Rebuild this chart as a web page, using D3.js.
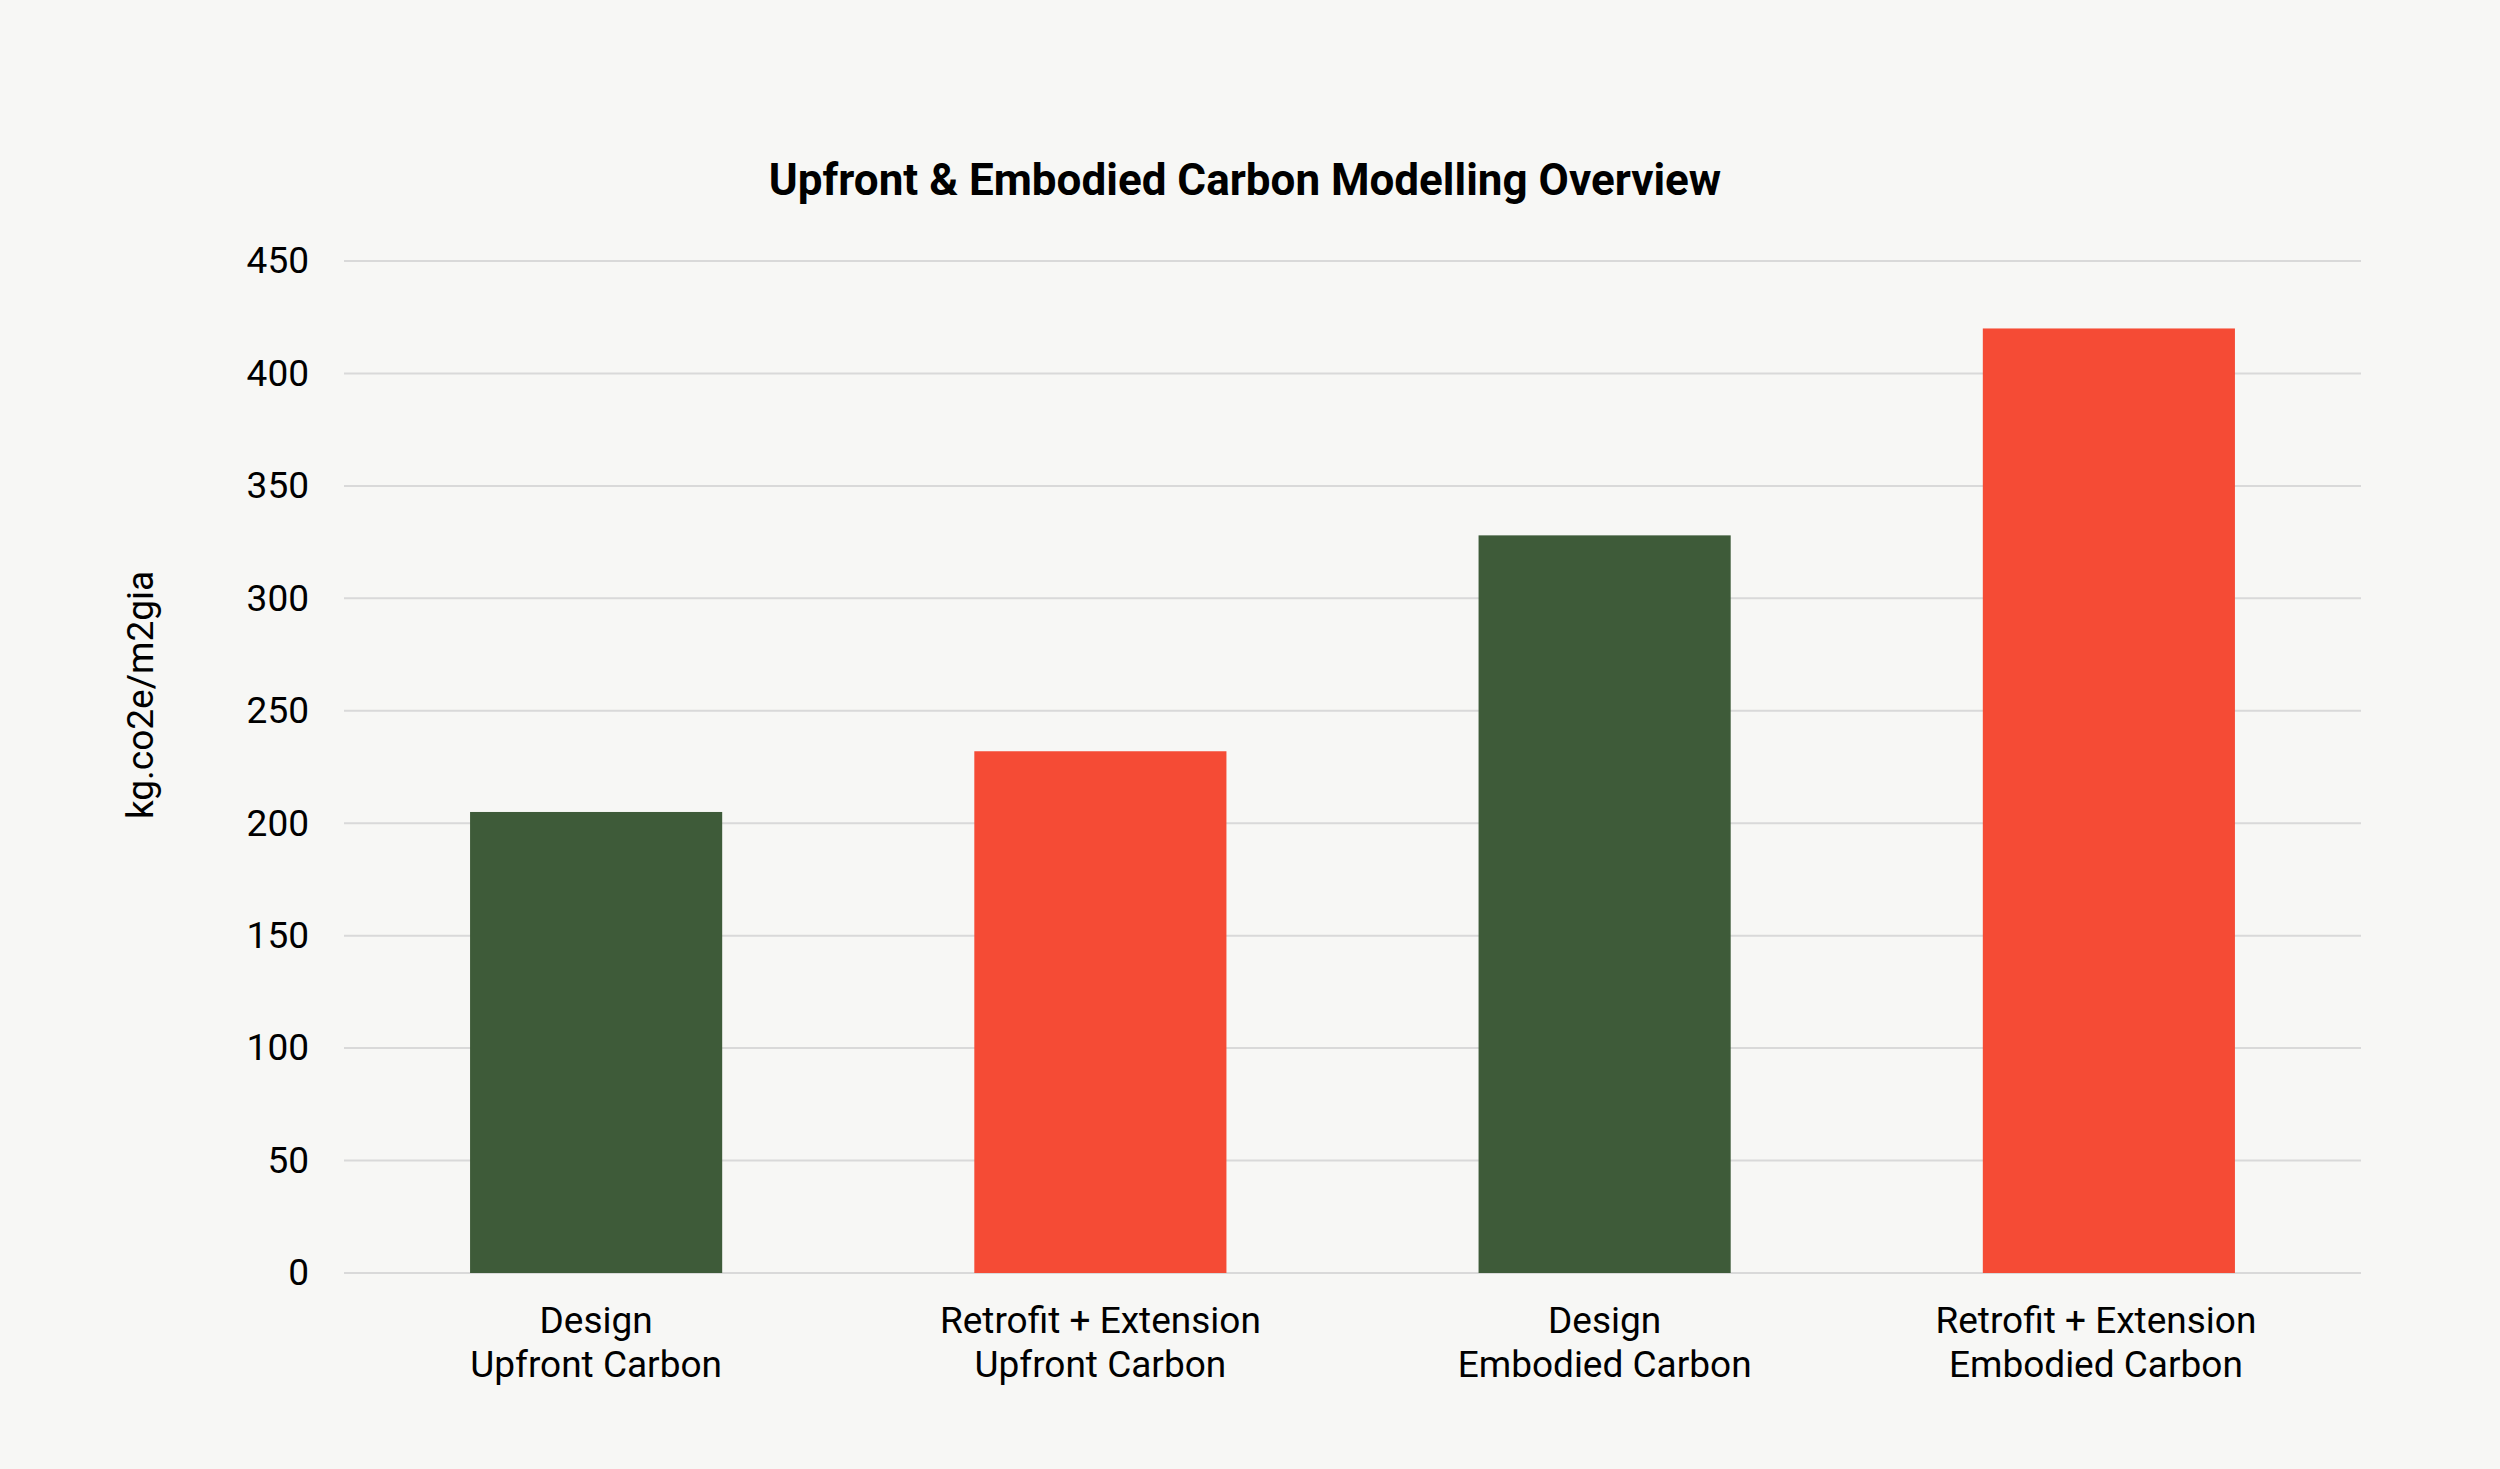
<!DOCTYPE html>
<html>
<head>
<meta charset="utf-8">
<script src="https://cdn.jsdelivr.net/npm/d3@7"></script>
<style>
  html, body { margin: 0; padding: 0; background: #f7f7f5; }
  svg { display: block; font-family: Roboto, "Noto Sans", sans-serif; }
</style>
</head>
<body>
<script>
// chart data
let categories = [
  ["Design", "Upfront Carbon"],
  ["Retrofit + Extension", "Upfront Carbon"],
  ["Design", "Embodied Carbon"],
  ["Retrofit + Extension", "Embodied Carbon"]
];
let values = [205, 232, 328, 420];
let barColors = ["#3e5b39", "#f54b35", "#3e5b39", "#f54b35"];
let yTicks = [0, 50, 100, 150, 200, 250, 300, 350, 400, 450];

let width = 2500, height = 1469;
let margin = { left: 344, right: 139, top: 261, bottom: 196 };

let svg = d3.select("body").append("svg")
  .attr("width", width)
  .attr("height", height);

svg.append("rect")
  .attr("width", width).attr("height", height)
  .attr("fill", "#f7f7f5");

let xScale = d3.scaleBand()
  .domain(d3.range(categories.length))
  .range([margin.left, width - margin.right])
  .paddingInner(0.5)
  .paddingOuter(0.25);

let yScale = d3.scaleLinear()
  .domain([0, 450])
  .range([height - margin.bottom, margin.top]);

// gridlines
svg.append("g")
  .selectAll("line")
  .data(yTicks)
  .enter()
  .append("line")
  .attr("x1", margin.left)
  .attr("x2", width - margin.right)
  .attr("y1", d => yScale(d))
  .attr("y2", d => yScale(d))
  .attr("stroke", "#d9d9d9")
  .attr("stroke-width", 2);

// y axis labels
let yAxis = d3.axisLeft(yScale).tickValues(yTicks).tickSize(0).tickPadding(35);
let yG = svg.append("g")
  .attr("transform", "translate(" + margin.left + ",0)")
  .call(yAxis);
yG.select(".domain").remove();
yG.selectAll("text")
  .attr("font-family", "Roboto")
  .attr("font-size", 37)
  .attr("fill", "#000");

// bars
svg.append("g")
  .selectAll("rect")
  .data(values)
  .enter()
  .append("rect")
  .attr("x", (d, i) => xScale(i))
  .attr("width", xScale.bandwidth())
  .attr("y", d => yScale(d))
  .attr("height", d => yScale(0) - yScale(d))
  .attr("fill", (d, i) => barColors[i]);

// x labels, two lines each (the last one is nudged left, as in the original)
let xLabels = svg.append("g")
  .selectAll("text")
  .data(categories)
  .enter()
  .append("text")
  .attr("text-anchor", "middle")
  .attr("font-size", 37)
  .attr("fill", "#000")
  .attr("transform", (d, i) => {
    let cx = xScale(i) + xScale.bandwidth() / 2 - (i === categories.length - 1 ? 13 : 0);
    return "translate(" + cx + ",1333)";
  });

xLabels.selectAll("tspan")
  .data(d => d)
  .enter()
  .append("tspan")
  .attr("x", 0)
  .attr("y", (d, i) => i * 44)
  .text(d => d);

// y axis title
svg.append("text")
  .attr("transform", "translate(153,695) rotate(-90)")
  .attr("text-anchor", "middle")
  .attr("font-size", 37)
  .attr("fill", "#000")
  .text("kg.co2e/m2gia");

// title
svg.append("text")
  .attr("x", 1245)
  .attr("y", 195)
  .attr("text-anchor", "middle")
  .attr("font-size", 44)
  .attr("font-weight", "bold")
  .attr("fill", "#000")
  .text("Upfront & Embodied Carbon Modelling Overview");
</script>
</body>
</html>
